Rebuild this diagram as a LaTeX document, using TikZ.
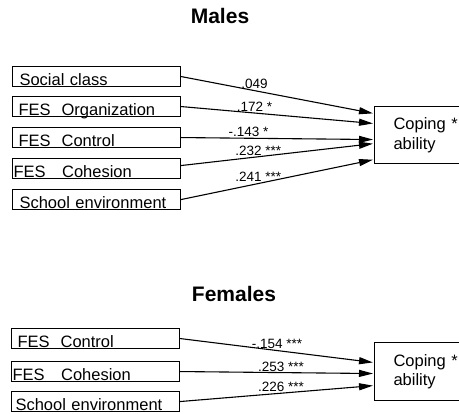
\documentclass[tikz,border=0pt]{standalone}
\usepackage{fontspec}
\setmainfont{Liberation Sans}
\usetikzlibrary{arrows.meta}
\begin{document}
\begin{tikzpicture}[x=1pt,y=-1pt,line width=1.1pt,
  var/.style={draw,anchor=north west,minimum height=20pt,inner xsep=6pt,inner ysep=0pt,
    text width=156pt,align=left,text height=19pt,text depth=1pt,font=\fontsize{16.5}{19}\selectfont},
  outcome/.style={draw,anchor=north west,inner xsep=19pt,
    text width=75pt,align=left,font=\fontsize{16.5}{19.5}\selectfont},
  coef/.style={anchor=south,inner sep=1pt,font=\fontsize{13.5}{15}\selectfont},
  grp/.style={font=\bfseries\fontsize{21}{24}\selectfont},
  path/.style={-{Triangle[length=14pt,width=7pt]},shorten >=1pt}]
  \useasboundingbox (0,0) rectangle (459,414);
  \clip (0,0) rectangle (459,414);
  \node[grp] (males) at (220,16) {Males};
  \node[var] (m1) at (12,66) {\hspace*{1pt}Social class};
  \node[var] (m2) at (12,96) {FES\ \ Organization};
  \node[var] (m3) at (12,127) {FES\ \ Control};
  \node[var] (m4) at (12,158) {\hspace*{-5pt}FES\ \ \ Cohesion};
  \node[var] (m5) at (12,189) {\hspace*{1pt}School environment};
  \node[outcome,minimum height=57pt] (mc) at (374,106) {Coping *\\ability};
  \draw[path] (m1.east) -- node[coef,pos=.38]{.049} ([yshift=21.5pt]mc.west);
  \draw[path] (m2.east) -- node[coef,pos=.38]{.172 *} ([yshift=11.5pt]mc.west);
  \draw[path] (m3.east) -- node[coef,pos=.35]{-.143 *} ([yshift=-4.5pt]mc.west);
  \draw[path] ([yshift=3pt]m4.east) -- node[coef,pos=.4]{.232 ***} ([yshift=-8.5pt]mc.west);
  \draw[path] (m5.east) -- node[coef,pos=.4]{.241 ***} ([yshift=-24.5pt]mc.west);
  \node[grp] (females) at (234,294) {Females};
  \node[var] (f1) at (11,328) {FES\ \ Control};
  \node[var] (f2) at (11,361) {\hspace*{-5pt}FES\ \ \ Cohesion};
  \node[var] (f3) at (11,391) {\hspace*{-2pt}School environment};
  \node[outcome,minimum height=58pt] (fc) at (374,342) {Coping *\\ability};
  \draw[path] (f1.east) -- node[coef,pos=.5]{-.154 ***} ([yshift=9pt]fc.west);
  \draw[path] (f2.east) -- node[coef,pos=.52,inner sep=0pt]{.253 ***} ([yshift=-2pt]fc.west);
  \draw[path] (f3.east) -- node[coef,pos=.52]{.226 ***} ([yshift=-14pt]fc.west);
\end{tikzpicture}
\end{document}
